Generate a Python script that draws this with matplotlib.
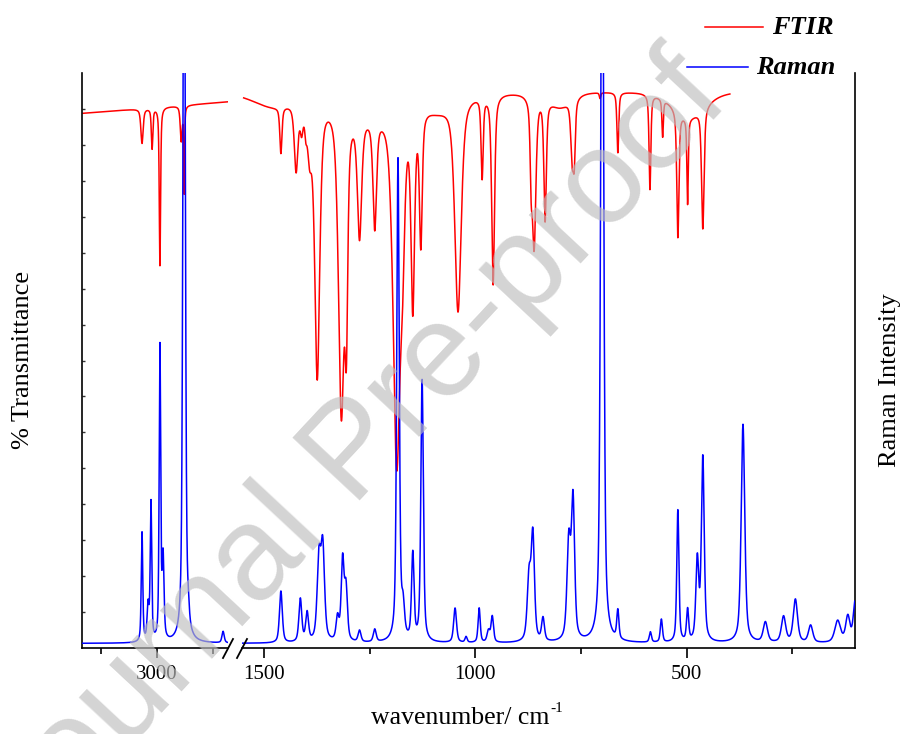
import numpy as np
import matplotlib
matplotlib.use("Agg")
import matplotlib.pyplot as plt
from matplotlib.lines import Line2D

plt.rcParams['font.family'] = ['Liberation Serif', 'DejaVu Serif']
plt.rcParams['mathtext.fontset'] = 'stix'

# ---------------- data ----------------
# x ranges of the two panels of the broken wavenumber axis (cm-1)
HI_LIMITS = (3335, 2683)
LO_LIMITS = (1552, 102)
FTIR_HI_SPAN = (3330, 2683)
FTIR_LO_SPAN = (1548, 398)

# FTIR baselines (%T)
FTIR_HI_BASE = (93.0, 95.0)
FTIR_LO_BASE = 97.0

# FTIR absorption bands: centre (cm-1), depth (%T), half width (cm-1)
ftir_hi_pos = [3067, 3022, 2987, 2892, 2879]
ftir_hi_depth = [6.0, 7.0, 27.5, 6.0, 15.0]
ftir_hi_hw = [6, 4, 3.5, 5, 2.5]

ftir_lo_pos = [1480, 1460, 1424, 1411, 1401, 1392, 1374, 1317, 1305, 1274,
               1250, 1238, 1186, 1172, 1148, 1129, 1090, 1041, 984, 958,
               868, 861, 835, 800, 771, 766, 705, 663, 587, 557,
               521, 498, 495, 462]
ftir_lo_depth = [2.5, 8.0, 11.5, 4.0, 3.0, 8.0, 48.0, 53.0, 31.0, 21.0,
                 3.0, 19.0, 62.0, 16.0, 34.0, 23.0, 2.5, 37.0, 14.0, 33.0,
                 11.0, 26.0, 21.0, 2.5, 10.0, 9.0, 1.0, 10.5, 16.5, 6.5,
                 22.0, 15.0, 4.5, 21.0]
ftir_lo_hw = [60, 3, 5, 4, 3, 6, 7, 8, 4, 6,
              60, 5, 10, 6, 5, 4, 40, 9, 3, 4,
              3, 5, 3.5, 30, 4, 3, 2, 2.5, 2.5, 2,
              3, 2, 45, 3.5]

# Raman bands: centre (cm-1), relative intensity, half width (cm-1)
raman_hi_pos = [3067, 3040, 3027, 2987, 2973, 2879, 2860, 2705]
raman_hi_int = [0.19, 0.06, 0.24, 0.51, 0.14, 1.5, 0.02, 0.02]
raman_hi_hw = [4, 5, 4, 4, 5, 6, 5, 6]

raman_lo_pos = [1460, 1414, 1398, 1370, 1361, 1326, 1314, 1306, 1274, 1238,
                1183, 1171, 1148, 1126, 1048, 1022, 991, 969, 960, 873,
                864, 840, 779, 769, 700, 663, 586, 560, 521, 498,
                475, 462, 367, 314, 271, 243, 207, 143, 119, 102]
raman_lo_int = [0.09, 0.075, 0.05, 0.14, 0.16, 0.04, 0.14, 0.09, 0.02, 0.022,
                0.84, 0.05, 0.15, 0.455, 0.06, 0.01, 0.06, 0.02, 0.045, 0.11,
                0.18, 0.04, 0.17, 0.24, 1.5, 0.05, 0.018, 0.04, 0.23, 0.055,
                0.14, 0.32, 0.38, 0.035, 0.045, 0.075, 0.03, 0.038, 0.045, 0.07]
raman_lo_hw = [4, 4, 4, 5, 5, 4, 4, 4, 4, 4,
               3.5, 4, 3.5, 3.5, 4, 3, 3, 4, 3.5, 5,
               4.5, 4, 5, 4.5, 4, 3, 3, 3, 3, 3,
               4, 4, 5, 6, 6, 6, 6, 8, 6, 5]
RAMAN_BASE = 0.008

ticks_hi_major = [3000]
ticks_hi_minor = [3250, 2750]
ticks_lo_major = [1500, 1000, 500]
ticks_lo_minor = [1250, 750, 250]
ticks_transmittance = [6.25 * k for k in range(1, 16)]


def profile(x, centres, heights, widths, eta):
    total = np.zeros_like(x)
    for c, h, w in zip(centres, heights, widths):
        u = (x - c) / w
        total += h * (eta / (1 + u ** 2) + (1 - eta) * np.exp(-np.log(2) * u ** 2))
    return total


# spectra
x_ft_hi = np.linspace(FTIR_HI_SPAN[0], FTIR_HI_SPAN[1], 3000)
base_hi = FTIR_HI_BASE[0] + (FTIR_HI_BASE[1] - FTIR_HI_BASE[0]) * \
    (x_ft_hi - FTIR_HI_SPAN[0]) / (FTIR_HI_SPAN[1] - FTIR_HI_SPAN[0])
ft_hi = base_hi - profile(x_ft_hi, ftir_hi_pos, ftir_hi_depth, ftir_hi_hw, 0.6)

x_ft_lo = np.linspace(FTIR_LO_SPAN[0], FTIR_LO_SPAN[1], 6000)
ft_lo = FTIR_LO_BASE - profile(x_ft_lo, ftir_lo_pos, ftir_lo_depth, ftir_lo_hw, 0.6)

x_ra_hi = np.linspace(HI_LIMITS[0], HI_LIMITS[1], 3000)
ra_hi = RAMAN_BASE + profile(x_ra_hi, raman_hi_pos, raman_hi_int, raman_hi_hw, 0.55)
x_ra_lo = np.linspace(LO_LIMITS[0], LO_LIMITS[1], 6000)
ra_lo = RAMAN_BASE + profile(x_ra_lo, raman_lo_pos, raman_lo_int, raman_lo_hw, 0.55)

# ---------------- figure ----------------
W, H = 903, 734
fig = plt.figure(figsize=(W / 100, H / 100), dpi=100)


def fx(px):
    return px / W


def fy(py):
    return 1 - py / H


ax_bot, ax_top = 648, 73
ax_hi = fig.add_axes([fx(82), fy(ax_bot), fx(228 - 82), (ax_bot - ax_top) / H])
ax_lo = fig.add_axes([fx(242), fy(ax_bot), fx(855 - 242), (ax_bot - ax_top) / H])
ra_ax_hi = ax_hi.twinx()
ra_ax_lo = ax_lo.twinx()

RED = '#ff0000'
BLUE = '#0000ff'

ax_hi.plot(x_ft_hi, ft_hi, color=RED, lw=1.1)
ax_lo.plot(x_ft_lo, ft_lo, color=RED, lw=1.1)
ra_ax_hi.plot(x_ra_hi, ra_hi, color=BLUE, lw=1.1)
ra_ax_lo.plot(x_ra_lo, ra_lo, color=BLUE, lw=1.1)

for a in (ax_hi, ax_lo, ra_ax_hi, ra_ax_lo):
    a.patch.set_visible(False)
    for s in a.spines.values():
        s.set_visible(False)
        s.set_linewidth(1.2)
    a.set_yticks([])

ax_hi.set_xlim(*HI_LIMITS)
ax_lo.set_xlim(*LO_LIMITS)
ax_hi.set_ylim(0, 100)
ax_lo.set_ylim(0, 100)
ra_ax_hi.set_ylim(0, 1)
ra_ax_lo.set_ylim(0, 1)

ax_hi.spines['left'].set_visible(True)
ax_hi.spines['bottom'].set_visible(True)
ax_lo.spines['bottom'].set_visible(True)
ax_lo.spines['right'].set_visible(True)

# faint inward ticks on the transmittance axis, no labels
ax_hi.set_yticks(ticks_transmittance)
ax_hi.tick_params(axis='y', direction='in', length=2.5, width=1.0,
                  labelleft=False, color='#333333')

ax_hi.set_xticks(ticks_hi_major)
ax_hi.set_xticks(ticks_hi_minor, minor=True)
ax_lo.set_xticks(ticks_lo_major)
ax_lo.set_xticks(ticks_lo_minor, minor=True)
for a in (ax_hi, ax_lo):
    a.tick_params(axis='x', which='major', direction='out', length=7, width=1.2,
                  labelsize=15, pad=5)
    a.tick_params(axis='x', which='minor', direction='out', length=4, width=1.2)

# break marks on the wavenumber axis
for x0 in (223, 237):
    fig.add_artist(Line2D([fx(x0), fx(x0 + 10)], [fy(658), fy(639)],
                          transform=fig.transFigure, color='black', lw=1.3))

# axis titles
fig.text(fx(549), fy(718), 'wavenumber/ cm', fontsize=18.5,
         ha='right', va='center')
fig.text(fx(550), fy(709), '-1', fontsize=11, ha='left', va='center')
fig.text(fx(23), fy(360), '% Transmittance', fontsize=19, rotation=90,
         ha='center', va='center')
fig.text(fx(890), fy(380), 'Raman Intensity', fontsize=19, rotation=90,
         ha='center', va='center')

# legend
fig.add_artist(Line2D([fx(705), fx(763)], [fy(27), fy(27)],
                      transform=fig.transFigure, color=RED, lw=1.1))
fig.text(fx(772), fy(27), 'FTIR', fontsize=19, fontweight='bold',
         fontstyle='italic', ha='left', va='center')
fig.add_artist(Line2D([fx(687), fx(748)], [fy(67), fy(67)],
                      transform=fig.transFigure, color=BLUE, lw=1.1))
fig.text(fx(756), fy(67), 'Raman', fontsize=19, fontweight='bold',
         fontstyle='italic', ha='left', va='center')

# translucent watermark laid over the whole figure
fig.text(fx(356), fy(455), 'Journal Pre-proof', family='Liberation Sans',
         fontsize=96, color='#bebebe', alpha=0.66, rotation=47,
         ha='center', va='center', zorder=10)

fig.savefig('out.png', dpi=100)
